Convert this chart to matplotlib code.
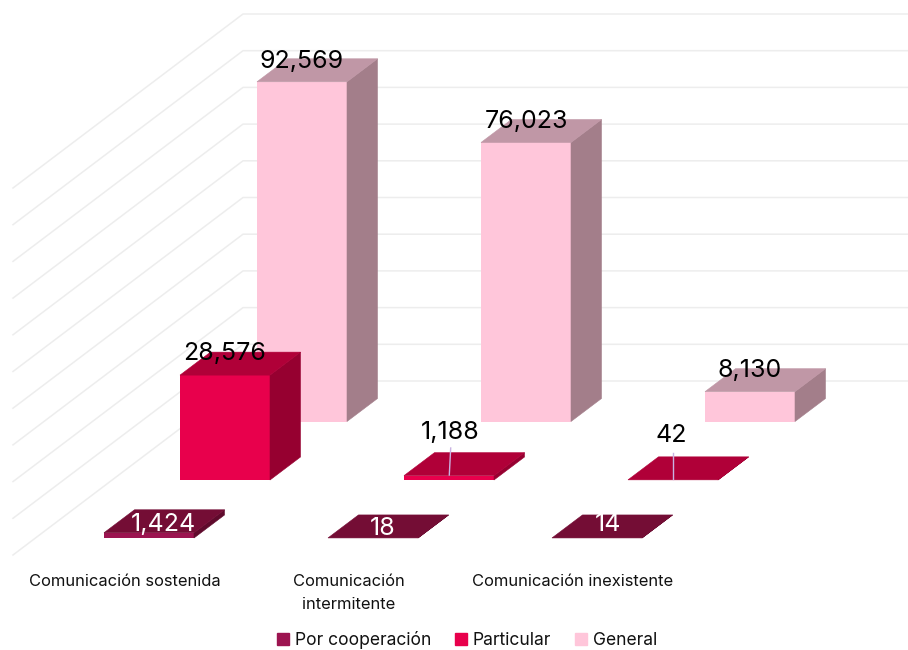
import matplotlib
matplotlib.use('Agg')
import matplotlib.pyplot as plt
from matplotlib.patches import Patch

plt.rcParams['font.family'] = ['Inter', 'DejaVu Sans']

# Data
categories = ['Comunicación sostenida', 'Comunicación\nintermitente', 'Comunicación inexistente']
series_names = ['Por cooperación', 'Particular', 'General']
por_cooperacion = [1424, 18, 14]
particular = [28576, 1188, 42]
general = [92569, 76023, 8130]
grid_values = [0, 10000, 20000, 30000, 40000, 50000, 60000, 70000, 80000, 90000, 100000]

# Layout, in pixels of the 908x650 picture
PX_PER_UNIT = 36.7 / 10000
BAR_W = 90
DEPTH_X = 30.5
DEPTH_Y = 23
STEP_X = 224
WALL_ZERO_Y = 381
WALL_X = 243
WALL_LEFT_X = 13
WALL_DROP = 174

colors = {
    'Por cooperación': ('#9C1450', '#740D35', '#5F0A2C'),
    'Particular': ('#E8004C', '#B00038', '#960030'),
    'General': ('#FFC6DA', '#C097A6', '#A37E8A'),
}


def draw_bar(ax, x, base, value, palette):
    """Draw one oblique box with its base front left corner at (x, base)"""
    top = base - value * PX_PER_UNIT
    front, roof, side = palette
    ax.fill([x, x + BAR_W, x + BAR_W, x],
            [base, base, top, top], color=front, lw=0, zorder=3)
    ax.fill([x + BAR_W, x + BAR_W + DEPTH_X, x + BAR_W + DEPTH_X, x + BAR_W],
            [base, base - DEPTH_Y, top - DEPTH_Y, top], color=side, lw=0.4, zorder=3)
    ax.fill([x, x + DEPTH_X, x + BAR_W + DEPTH_X, x + BAR_W],
            [top, top - DEPTH_Y, top - DEPTH_Y, top], color=roof, lw=0.4, zorder=3)
    return top


def draw_series(ax, name, values, x0, base, label_gaps, label_shifts, label_color):
    for i, value in enumerate(values):
        x = x0 + i * STEP_X
        top = draw_bar(ax, x, base, value, colors[name])
        ax.text(x + BAR_W / 2 + label_shifts[i], top - label_gaps[i], f'{value:,}',
                ha='center', va='center_baseline', fontsize=18, color=label_color, zorder=6)


fig = plt.figure(figsize=(9.08, 6.5), dpi=100)
ax = fig.add_axes([0, 0, 1, 1])
ax.set_xlim(0, 908)
ax.set_ylim(650, 0)
ax.axis('off')

# Back wall and left wall grid
for v in grid_values:
    y = WALL_ZERO_Y - v * PX_PER_UNIT
    ax.plot([WALL_LEFT_X, WALL_X, 908], [y + WALL_DROP, y, y], color='#EDEDED', lw=1.1, zorder=1)

draw_series(ax, 'General', general, 257, 421.5, [23, 23, 24], [0, 0, 0], 'black')
draw_series(ax, 'Particular', particular, 180, 480, [24, 46, 47], [0, 1, -2], 'black')
draw_series(ax, 'Por cooperación', por_cooperacion, 104, 538, [11, 12, 16], [14, 10, 11], 'white')

# Leader lines of the two small labels
ax.plot([450.7, 449.3], [448, 475], color='#C9B2E2', lw=1, zorder=5)
ax.plot([672.7, 672.7], [453, 479], color='#C9B2E2', lw=1, zorder=5)

for i, cat in enumerate(categories):
    ax.text(125 + i * STEP_X, 582 if '\n' not in cat else 574, cat, ha='center',
            va='top' if '\n' in cat else 'center',
            fontsize=11.9, color='#111111', linespacing=1.7)

handles = [Patch(color=colors[n][0]) for n in series_names]
ax.legend(handles, series_names, ncol=3, loc='center', bbox_to_anchor=(467 / 908, 1 - 640 / 650),
          frameon=False, fontsize=12.6, handlelength=0.69, handleheight=0.65,
          handletextpad=0.35, columnspacing=1.35, labelcolor='#111111', borderpad=0)

plt.savefig('out.png', dpi=100)
